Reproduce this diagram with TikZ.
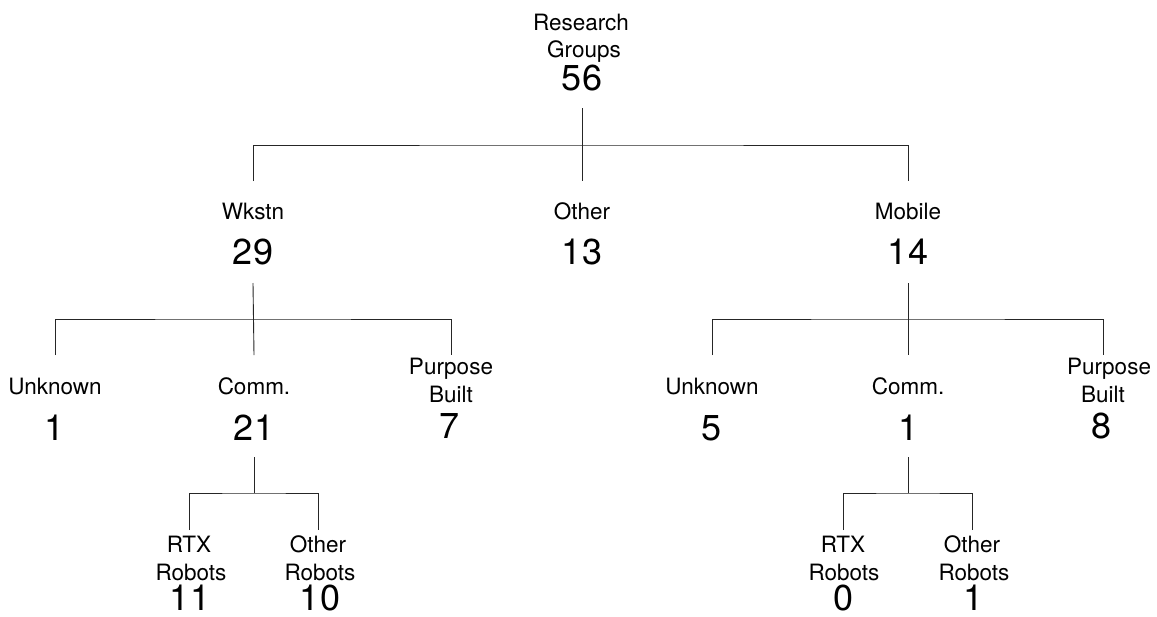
\documentclass[tikz,border=0pt]{standalone}
\usepackage{fontspec}
\usetikzlibrary{calc}
\setmainfont{TeX Gyre Heros}
\begin{document}
\begin{tikzpicture}[x=1pt,y=-1pt,
  lab/.style={anchor=base,inner sep=0pt,font=\fontsize{22.5}{27}\selectfont},
  num/.style={anchor=base,inner sep=0pt,font=\fontsize{36}{40}\selectfont},
  edge/.style={draw=black!85,line width=0.9pt}]
\useasboundingbox[fill=white] (0,0) rectangle (1157,616);
% root
\node[lab] (rs) at (581,30) {Research};
\node[lab] (rg) at (584,57) {Groups};
\node[num] (root) at (582,90) {56};
% level 2
\node[lab] (wk) at (253,219) {Wkstn};
\node[num] (n29) at (253,264) {29};
\node[lab] (oth) at (582,219) {Other};
\node[num] (n13) at (582,264) {13};
\node[lab] (mob) at (908,219) {Mobile};
\node[num] (n14) at (908,264) {14};
% level 3 left
\node[lab] (unl) at (55,394) {Unknown};
\node[num] (n1l) at (55,440) {1};
\node[lab] (cml) at (254,394) {Comm.};
\node[num] (n21) at (254,440) {21};
\node[lab] (pbl) at (451,374) {Purpose};
\node[lab] (bul) at (451,402) {Built};
\node[num] (n7) at (450,438) {7};
% level 3 right
\node[lab] (unr) at (712,394) {Unknown};
\node[num] (n5) at (712,440) {5};
\node[lab] (cmr) at (908,394) {Comm.};
\node[num] (n1r) at (908,440) {1};
\node[lab] (pbr) at (1109,374) {Purpose};
\node[lab] (bur) at (1103,402) {Built};
\node[num] (n8) at (1101,438) {8};
% level 4 left
\node[lab] (rxl) at (189,552) {RTX};
\node[lab] (rbl1) at (191,580) {Robots};
\node[num] (n11) at (190,610) {11};
\node[lab] (orl) at (318,552) {Other};
\node[lab] (rbl2) at (320,580) {Robots};
\node[num] (n10) at (320,610) {10};
% level 4 right
\node[lab] (rxr) at (843,552) {RTX};
\node[lab] (rbr1) at (844,580) {Robots};
\node[num] (n0) at (843,610) {0};
\node[lab] (orr) at (972,552) {Other};
\node[lab] (rbr2) at (974,580) {Robots};
\node[num] (n1b) at (973,610) {1};
% bars
\coordinate (bar1) at (582,145);
\coordinate (bar2) at (253,319);
\coordinate (bar3) at (908,319);
\coordinate (bar4) at (254,493);
\coordinate (bar5) at (908,493);
\coordinate (pbrtop) at ($(pbr.base -| bur.base)+(0,-19)$);
% connectors
\draw[edge] ([yshift=-18pt]root.base) -- ([yshift=38pt]oth.base);
\draw[edge] ([yshift=38pt]wk.base) |- (bar1) -| ([yshift=38pt]mob.base);
\draw[edge] ([yshift=-19pt]n29.base) -- ([yshift=39pt]cml.base);
\draw[edge] ([yshift=39pt]unl.base) |- (bar2) -| ([yshift=19pt]pbl.base);
\draw[edge] ([yshift=-19pt]n14.base) -- ([yshift=39pt]cmr.base);
\draw[edge] ([yshift=39pt]unr.base) |- (bar3) -| (pbrtop);
\draw[edge] ([yshift=-17pt]n21.base) -- (bar4);
\draw[edge] ([yshift=22pt]rxl.base) |- (bar4) -| ([yshift=22pt]orl.base);
\draw[edge] ([yshift=-17pt]n1r.base) -- (bar5);
\draw[edge] ([yshift=22pt]rxr.base) |- (bar5) -| ([yshift=22pt]orr.base);
\end{tikzpicture}
\end{document}
